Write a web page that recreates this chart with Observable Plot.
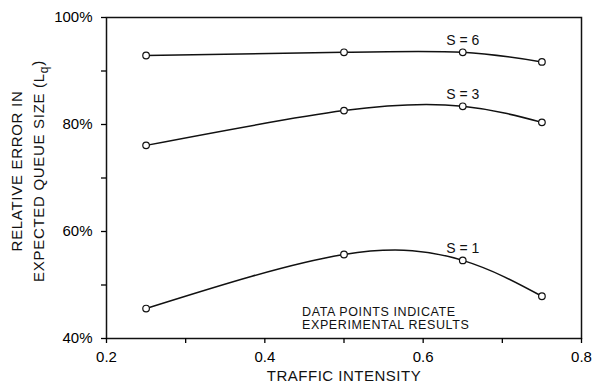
<!DOCTYPE html>
<html>
<head>
<meta charset="utf-8">
<script src="https://cdn.jsdelivr.net/npm/d3@7"></script>
<script src="https://cdn.jsdelivr.net/npm/@observablehq/plot@0.6"></script>
<style>
  html, body { margin: 0; padding: 0; background: #fff; }
  #chart svg { display: block; font-family: "Liberation Sans", Arial, sans-serif; }
</style>
</head>
<body>
<div id="chart"></div>
<script>
// Data
const intensity = [0.25, 0.5, 0.65, 0.75];
const seriesNames = ["S = 1", "S = 3", "S = 6"];
const errS1 = [45.6, 55.7, 54.6, 47.9];
const errS3 = [76.1, 82.6, 83.4, 80.4];
const errS6 = [92.9, 93.5, 93.5, 91.7];
const xTicks = [0.2, 0.3, 0.4, 0.5, 0.6, 0.7, 0.8];
const xTickLabels = ["0.2", "", "0.4", "", "0.6", "", "0.8"];
const yTicks = [40, 50, 60, 70, 80, 90, 100];
const yTickLabels = ["40%", "", "60%", "", "80%", "", "100%"];
const noteText = "DATA POINTS INDICATE\nEXPERIMENTAL RESULTS";
const noteX = 0.447;
const noteY = 43.8;

const seriesValues = [errS1, errS3, errS6];
const rows = seriesValues.flatMap((vals, i) =>
  vals.map((v, j) => ({series: seriesNames[i], x: intensity[j], y: v, idx: j})));
const labelRows = rows.filter(d => d.idx === 2);

const plot = Plot.plot({
  width: 594,
  height: 387,
  marginLeft: 106,
  marginRight: 13,
  marginTop: 17,
  marginBottom: 49,
  style: {fontFamily: "Liberation Sans, Arial, sans-serif", background: "#fff", color: "#000"},
  x: {domain: [0.2, 0.8]},
  y: {domain: [40, 100]},
  marks: [
    Plot.frame({stroke: "#111", strokeWidth: 1.5}),
    Plot.axisX({ticks: xTicks, tickFormat: (d, i) => xTickLabels[i], tickSize: 5, tickPadding: 8,
      fontSize: 15, label: null, strokeWidth: 1.3}),
    Plot.axisY({ticks: yTicks, tickFormat: (d, i) => yTickLabels[i], tickSize: 5, tickPadding: 9,
      fontSize: 15, label: null, strokeWidth: 1.3}),
    Plot.line(rows, {x: "x", y: "y", z: "series", curve: "natural", stroke: "#111", strokeWidth: 1.5}),
    Plot.dot(rows, {x: "x", y: "y", r: 3.3, stroke: "#111", fill: "#fff", strokeWidth: 1.2}),
    Plot.text(labelRows, {x: "x", y: "y", text: "series", dy: -12, fontSize: 14, fill: "#111"}),
    Plot.text([noteText], {x: noteX, y: noteY, text: d => d, textAnchor: "start", fontSize: 12.5,
      lineHeight: 1.1, fill: "#111", className: "spaced-note"}),
    Plot.text(["TRAFFIC INTENSITY"], {frameAnchor: "bottom", dy: 42, text: d => d, fontSize: 15, fill: "#111",
      className: "spaced-x"}),
    Plot.text(["RELATIVE ERROR IN"], {frameAnchor: "left", textAnchor: "middle", dx: -89, dy: -7, rotate: -90,
      text: d => d, fontSize: 15, fill: "#111", className: "spaced-y"}),
    Plot.text(["EXPECTED QUEUE SIZE (Lq)"], {frameAnchor: "left", textAnchor: "middle", dx: -67, dy: -7, rotate: -90,
      text: d => d, fontSize: 15, fill: "#111", className: "spaced-y"})
  ]
});

d3.select(plot).selectAll(".spaced-x text").attr("letter-spacing", "0.5");
d3.select(plot).selectAll(".spaced-y text").attr("letter-spacing", "0.7");
d3.select(plot).selectAll(".spaced-note text").attr("letter-spacing", "0.6");

// Render the "q" of Lq as a subscript
d3.select(plot).selectAll("text").each(function() {
  const t = d3.select(this);
  if (t.text() === "EXPECTED QUEUE SIZE (Lq)") {
    t.text(null);
    t.append("tspan").text("EXPECTED QUEUE SIZE (L");
    t.append("tspan").attr("dy", "0.3em").attr("font-size", "0.8em").text("q");
    t.append("tspan").attr("dy", "-0.3em").text(")");
  }
});

document.getElementById("chart").appendChild(plot);
</script>
</body>
</html>
